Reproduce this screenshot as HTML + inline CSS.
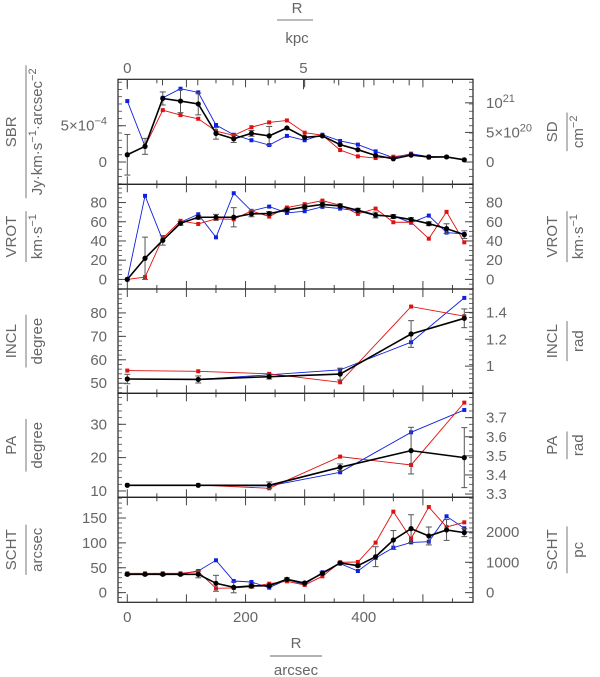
<!DOCTYPE html>
<html><head><meta charset="utf-8">
<style>
html,body{margin:0;padding:0;background:#fff;}
svg{display:block;font-family:"Liberation Sans",sans-serif;}
text{fill:#666;font-size:15px;}
</style></head>
<body>
<svg id="chart" width="600" height="677" viewBox="0 0 600 677" xmlns="http://www.w3.org/2000/svg"></svg>
<script>
const radii = [0,30,60,90,120,150,180,210,240,270,300,330,360,390,420,450,480,510,540,570];
const radiiCoarse = [0,120,240,360,480,570];

const sbrBlack = [1.0,2.16,8.76,8.4,8.0,3.95,3.2,3.95,3.6,4.7,3.4,3.6,2.4,1.7,0.9,0.45,0.95,0.7,0.7,0.3];
const sbrErr   = [2.8,1.1,0.9,1.6,1.5,0.8,0.5,0.4,1.3,0.3,0.3,0.3,0.3,0.3,0.3,0.2,0.2,0.2,0.2,0.2];
const sbrBlue  = [8.4,2.16,8.85,10.1,9.6,5.1,3.76,3.0,2.34,3.6,3.0,3.76,2.9,2.4,1.47,0.6,1.15,0.73,0.7,0.3];
const sbrRed   = [1.0,2.16,7.15,6.47,5.96,4.27,3.67,4.8,5.46,5.73,4.04,3.7,1.65,0.78,0.55,0.73,1.05,0.6,0.7,0.3];

const vrotBlack = [0,22,40.7,58.4,64.7,64.7,64.7,68.2,68.5,72.3,75.5,78,76.5,72,67,65.4,62.3,58,52.9,46.6];
const vrotErr   = [0,22,5,2,2,3,10,3,2,2,2,2,2,2,3,2,2,2,5,4];
const vrotBlue  = [0,87,40.7,59.5,67.8,43.8,89.7,71.3,75.8,69.2,71,75.5,73.7,71.3,66.4,66,59,66.4,48.7,47.3];
const vrotRed   = [0,2.4,43,61,57.7,63,62.6,71.3,65.4,74.8,78.3,82,77.2,68.2,73.7,59.5,59.5,42.4,70.3,38.6];

const inclBlack = [51.8,51.6,52.8,53.9,71.0,77.7];
const inclErr   = [2,1.5,1,2.5,5.7,4];
const inclBlue  = [51.8,51.6,53.6,55.7,67.5,86.4];
const inclRed   = [55.4,55.1,54,50.4,82.7,78.6];

const paBlack = [11.7,11.7,11.7,17.1,22.1,20];
const paErr   = [0.3,0.3,1,1,7,9];
const paBlue  = [11.8,11.8,11.5,15.6,27.6,34.3];
const paRed   = [11.8,11.8,10.8,20.3,17.8,36.5];

const schtBlack = [36.8,36.8,36.8,36.8,36.8,18.8,10.7,13.4,14,26.8,19.4,38.8,59.6,54.2,72.3,105.8,128.6,113.9,126,120.6];
const schtErr   = [2,2,2,2,7,16,11,4,3,3,2,3,2,2,20,19,28,18,21,8];
const schtBlue  = [37.5,37.5,37.5,37.5,43.5,65,23.4,21.4,10,26,16.7,40.9,58.3,43.5,69.7,90.4,101,102.5,153.4,129.3];
const schtRed   = [38.8,38.8,38.8,38.8,42.2,8.7,9.4,12,18,22.8,15.4,32.8,61,61.6,100.5,162.8,108.5,172,132,141.3];

const xTickLabels = [0,200,400];
const kpcTickLabels = [0,5];

const svg = document.getElementById('chart');
const NS = 'http://www.w3.org/2000/svg';
function mk(tag, attrs, parent){const e=document.createElementNS(NS,tag);for(const k in attrs)e.setAttribute(k,attrs[k]);(parent||svg).appendChild(e);return e;}

const X0=127.3, XS=0.5912, FL=118, FR=473;
const xs = v => X0 + v*XS;
const kpcPerArcsec = 5/298;

const panels = [
 {name:'sbr',top:79.3,bot:184.3,min:-3.07,max:11.4,r:radii,k:sbrBlack,e:sbrErr,b:sbrBlue,rd:sbrRed,
  lt:[[0,'0'],[5,'5×10<tspan dy="-6" font-size="11">−4</tspan>']],
  rt:[[0,'0'],[4.08,'5×10<tspan dy="-6" font-size="11">20</tspan>'],[8.16,'10<tspan dy="-6" font-size="11">21</tspan>']],
  ln:'SBR',lu:'Jy·km·s<tspan dy="-6" font-size="11">−1</tspan><tspan dy="6">·arcsec</tspan><tspan dy="-6" font-size="11">−2</tspan>',
  rn:'SD',ru:'cm<tspan dy="-6" font-size="11">−2</tspan>',minor:1},
 {name:'vrot',top:184.3,bot:289,min:-10,max:99,r:radii,k:vrotBlack,e:vrotErr,b:vrotBlue,rd:vrotRed,
  lt:[[0,'0'],[20,'20'],[40,'40'],[60,'60'],[80,'80']],rt:[[0,'0'],[20,'20'],[40,'40'],[60,'60'],[80,'80']],
  ln:'VROT',lu:'km·s<tspan dy="-6" font-size="11">−1</tspan>',rn:'VROT',ru:'km·s<tspan dy="-6" font-size="11">−1</tspan>',minor:5},
 {name:'incl',top:289,bot:393.3,min:45.7,max:90.2,r:radiiCoarse,k:inclBlack,e:inclErr,b:inclBlue,rd:inclRed,
  lt:[[50,'50'],[60,'60'],[70,'70'],[80,'80']],rt:[[57.2958,'1'],[68.755,'1.2'],[80.214,'1.4']],
  ln:'INCL',lu:'degree',rn:'INCL',ru:'rad',minor:2},
 {name:'pa',top:393.3,bot:497.3,min:8.1,max:39.3,r:radiiCoarse,k:paBlack,e:paErr,b:paBlue,rd:paRed,
  lt:[[10,'10'],[20,'20'],[30,'30']],rt:[3.3,3.4,3.5,3.6,3.7].map(v=>[v*57.2958-180,v.toFixed(1)]),
  ln:'PA',lu:'degree',rn:'PA',ru:'rad',minor:2},
 {name:'scht',top:497.3,bot:602.3,min:-19.4,max:191.6,r:radii,k:schtBlack,e:schtErr,b:schtBlue,rd:schtRed,
  lt:[[0,'0'],[50,'50'],[100,'100'],[150,'150']],rt:[[0,'0'],[61,'1000'],[122,'2000']],
  ln:'SCHT',lu:'arcsec',rn:'SCHT',ru:'pc',minor:10},
];

panels.forEach((p,pi)=>{
  const ys = v => p.bot - (v-p.min)/(p.max-p.min)*(p.bot-p.top);
  const g = mk('g',{});
  
  
  // frame
  const fr = mk('rect',{x:FL,y:p.top,width:FR-FL,height:p.bot-p.top,fill:'none',stroke:'#222','stroke-width':1.2},g);
  
  
  // minor y ticks
  for(let v=Math.ceil(p.min/p.minor)*p.minor; v<=p.max; v+=p.minor){
    const y=ys(v);
    mk('line',{x1:FL,x2:FL+4,y1:y,y2:y,stroke:'#444','stroke-width':0.8},g);
    mk('line',{x1:FR-4,x2:FR,y1:y,y2:y,stroke:'#444','stroke-width':0.8},g);
  }
  p.lt.forEach(([v,t])=>{
    const y=ys(v);
    mk('line',{x1:FL,x2:FL+8,y1:y,y2:y,stroke:'#444','stroke-width':1},g);
    const tx=mk('text',{x:107,y:y+5,'text-anchor':'end'},g); tx.innerHTML=t;
    
    
  });
  p.rt.forEach(([v,t])=>{
    const y=ys(v);
    mk('line',{x1:FR-8,x2:FR,y1:y,y2:y,stroke:'#444','stroke-width':1},g);
    const tx=mk('text',{x:486,y:y+5},g); tx.innerHTML=t;
    
    
  });
  // x ticks
  for(let v=0; v<=600; v+=50){
    const x=xs(v); if(x>FR) break;
    const L = v%100===0?8:4;
    mk('line',{x1:x,x2:x,y1:p.bot,y2:p.bot-L,stroke:'#444','stroke-width':1},g);
    mk('line',{x1:x,x2:x,y1:p.top,y2:p.top+L,stroke:'#444','stroke-width':1},g);
  }
  // axis titles
  const cy=(p.top+p.bot)/2;
  const ttl=(cx,name,unit,side)=>{
    const t1=mk('text',{x:0,y:0,'text-anchor':'middle',transform:`translate(${cx},${cy}) rotate(-90)`},g);
    t1.textContent=name;
    
    
    const t2=mk('text',{x:0,y:0,'text-anchor':'middle',transform:`translate(${cx+26},${cy}) rotate(-90)`},g);
    t2.innerHTML=unit;
    
    
    const w=Math.max(t1.getComputedTextLength(),t2.getComputedTextLength())+6;
    mk('line',{x1:cx+10,x2:cx+10,y1:cy-w/2,y2:cy+w/2,stroke:'#777','stroke-width':1},g);
  };
  ttl(16,p.ln,p.lu,'left');
  ttl(557,p.rn,p.ru,'right');
  // series
  const series=[[p.b,'#1020e0','blue'],[p.rd,'#e01010','red']];
  series.forEach(([arr,col,nm])=>{
    const pts=arr.map((v,i)=>xs(p.r[i])+','+ys(v)).join(' ');
    const pl=mk('polyline',{points:pts,fill:'none',stroke:col,'stroke-width':0.9},g);
    
    
    arr.forEach((v,i)=>{
      const r=mk('rect',{x:xs(p.r[i])-2,y:ys(v)-2,width:4,height:4,fill:col},g);
      
      
    });
  });
  p.e.forEach((e,i)=>{
    if(e<=0.3) return;
    const x=xs(p.r[i]), y1=ys(p.k[i]-e), y2=ys(p.k[i]+e);
    mk('line',{x1:x,x2:x,y1:y1,y2:y2,stroke:'#555','stroke-width':1},g);
    mk('line',{x1:x-3,x2:x+3,y1:y1,y2:y1,stroke:'#555','stroke-width':1},g);
    mk('line',{x1:x-3,x2:x+3,y1:y2,y2:y2,stroke:'#555','stroke-width':1},g);
  });
  const kp=mk('polyline',{points:p.k.map((v,i)=>xs(p.r[i])+','+ys(v)).join(' '),fill:'none',stroke:'#000','stroke-width':1.6},g);
  
  
  p.k.forEach((v,i)=>{
    const c=mk('circle',{cx:xs(p.r[i]),cy:ys(v),r:2.6,fill:'#000'},g);
    
    
  });
});

// bottom x tick labels
xTickLabels.forEach(v=>{
  const t=mk('text',{x:xs(v),y:622,'text-anchor':'middle'}); t.textContent=v;
  
  
});
kpcTickLabels.forEach(v=>{
  const t=mk('text',{x:xs(v/kpcPerArcsec),y:73,'text-anchor':'middle'}); t.textContent=v;
  
  
});
// kpc ticks on top
for(let k=0;k<=8;k++){
  const x=xs(k/kpcPerArcsec); if(x>FR) break;
  mk('line',{x1:x,x2:x,y1:79.3,y2:79.3+(k%5===0?10:6),stroke:'#444','stroke-width':1});
}
const bx=mk('text',{x:296,y:648,'text-anchor':'middle'}); bx.textContent='R';


mk('line',{x1:270,x2:322,y1:656,y2:656,stroke:'#999','stroke-width':1.5});
const bu=mk('text',{x:296,y:675,'text-anchor':'middle'}); bu.textContent='arcsec';


const tx=mk('text',{x:297,y:13,'text-anchor':'middle'}); tx.textContent='R';


mk('line',{x1:277,x2:313,y1:20,y2:20,stroke:'#777','stroke-width':1});
const tu=mk('text',{x:297,y:43,'text-anchor':'middle'}); tu.textContent='kpc';


</script>
</body></html>
